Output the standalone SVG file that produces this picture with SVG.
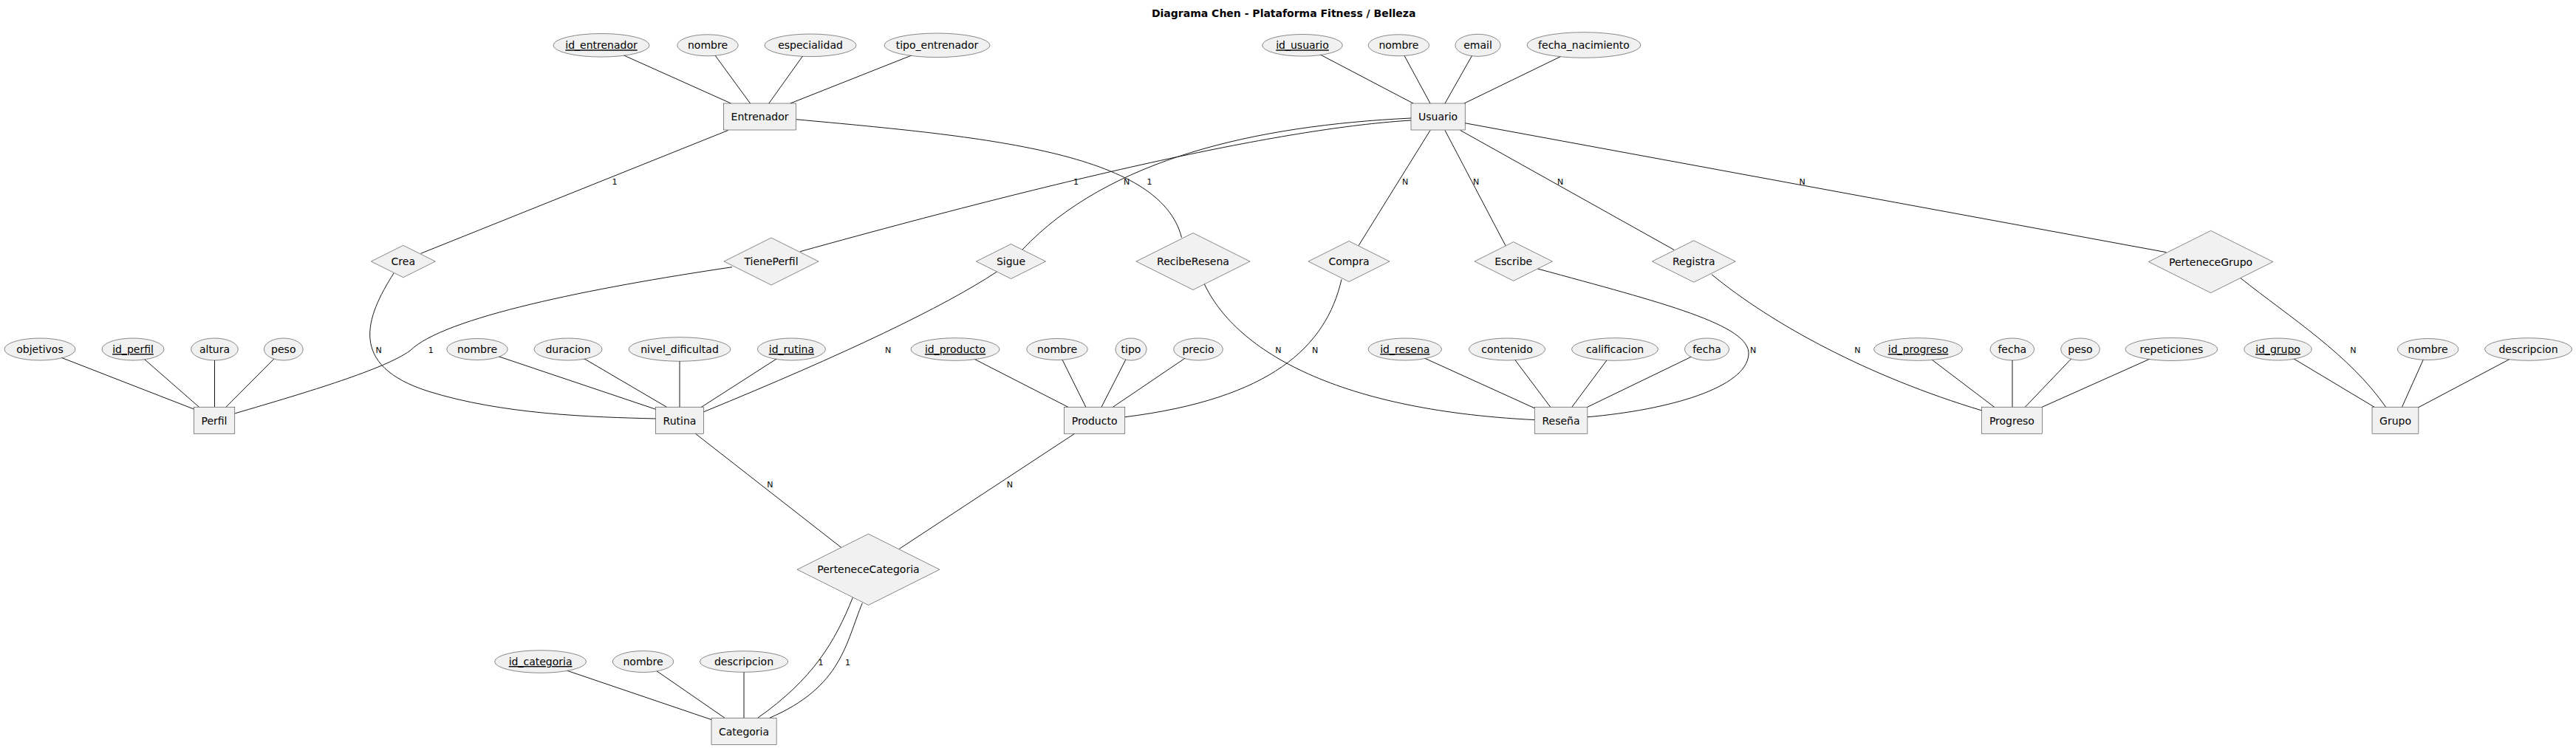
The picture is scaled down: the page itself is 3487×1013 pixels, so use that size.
<svg xmlns="http://www.w3.org/2000/svg" width="3487" height="1013" viewBox="0 0 3487 1013">
<style>
text{font-family:"DejaVu Sans",Verdana,sans-serif;fill:#000}
.t{font-size:14px;text-anchor:middle}
.k{text-decoration:underline}
.c{font-size:11px;text-anchor:middle}
.title{font-size:14px;font-weight:bold;text-anchor:middle}
.n rect,.n ellipse,.n polygon{fill:#F1F1F1;stroke:#181818;stroke-width:0.5}
#connectors path,#connectors line{fill:none;stroke:#181818;stroke-width:1}
</style>
<rect width="3487" height="1013" fill="#fff"/>
<text class="title" x="1737.7" y="23.3">Diagrama Chen - Plataforma Fitness / Belleza</text>
<g id="connectors">
<!-- attribute lines -->
<line x1="814" y1="61.3" x2="989.5" y2="140"/>
<line x1="958" y1="61.3" x2="1015.5" y2="140"/>
<line x1="1097" y1="61.3" x2="1040.8" y2="140"/>
<line x1="1268.5" y1="61.3" x2="1069.8" y2="140"/>
<line x1="1763" y1="61.3" x2="1913" y2="140"/>
<line x1="1893.4" y1="61.3" x2="1936" y2="140"/>
<line x1="2000.5" y1="61.3" x2="1956" y2="140"/>
<line x1="2144" y1="61.3" x2="1982" y2="140"/>
<line x1="54" y1="473" x2="262.3" y2="554"/>
<line x1="180" y1="473" x2="269.4" y2="551.2"/>
<line x1="290.5" y1="473" x2="290.5" y2="551.2"/>
<line x1="383.8" y1="473" x2="306" y2="551.2"/>
<line x1="646" y1="473" x2="887.7" y2="554.3"/>
<line x1="769" y1="473" x2="903" y2="551.6"/>
<line x1="920" y1="473" x2="920" y2="551.6"/>
<line x1="1071.4" y1="473" x2="949" y2="551.6"/>
<line x1="1293" y1="473" x2="1446.4" y2="551.6"/>
<line x1="1431" y1="473" x2="1470" y2="551.6"/>
<line x1="1531" y1="473" x2="1490.8" y2="551.6"/>
<line x1="1622" y1="473" x2="1506" y2="551.6"/>
<line x1="1901.8" y1="473" x2="2077.8" y2="553"/>
<line x1="2040" y1="473" x2="2099" y2="551.6"/>
<line x1="2186" y1="473" x2="2127.6" y2="551.6"/>
<line x1="2310.5" y1="473" x2="2148.5" y2="551.4"/>
<line x1="2596.5" y1="473" x2="2700" y2="551.6"/>
<line x1="2724" y1="473" x2="2724" y2="551.6"/>
<line x1="2816" y1="473" x2="2741" y2="551.6"/>
<line x1="2939.4" y1="473" x2="2764" y2="551.4"/>
<line x1="3083.5" y1="473" x2="3214.5" y2="551.6"/>
<line x1="3286.6" y1="473" x2="3251.3" y2="551.6"/>
<line x1="3422.5" y1="473" x2="3274" y2="551.6"/>
<line x1="731.6" y1="896" x2="964.3" y2="975"/>
<line x1="870.5" y1="896" x2="981" y2="972.3"/>
<line x1="1007" y1="896" x2="1007" y2="972.3"/>
<!-- relationship lines -->
<line x1="985.6" y1="176.5" x2="569.5" y2="343.3"/>
<path d="M533,370 C495,430 470,495 580,530 C679,561 800,565 888,567"/>
<path d="M1077.5,161.7 C1330,185 1570,205 1599.5,321.7"/>
<path d="M1910,163 C1760,172 1500,225 1083,340.7"/>
<path d="M1910,160 C1700,170 1500,215 1383.7,338.3"/>
<line x1="1936" y1="176.5" x2="1839" y2="332.7"/>
<line x1="1956" y1="176.5" x2="2038" y2="332.7"/>
<line x1="1976.8" y1="176.5" x2="2266" y2="338.3"/>
<line x1="1983" y1="166.7" x2="2932.4" y2="341.7"/>
<path d="M991,361.7 C800,390 600,430 555,475 C520,500 420,530 317.6,560"/>
<path d="M1349,368.3 Q1240,440 952,558"/>
<path d="M1630,384 C1670,470 1800,555 2077.5,568.6"/>
<path d="M1816,378.3 C1795,470 1720,540 1522.5,564.8"/>
<path d="M2081.6,364 C2250,410 2370,440 2367,480 C2364,525 2260,555 2148.5,564.8"/>
<path d="M2317,371.7 C2400,440 2530,510 2682.8,556"/>
<path d="M3033,376.7 C3100,430 3180,480 3229.8,551.6"/>
<line x1="941.3" y1="587.2" x2="1139" y2="741.7"/>
<line x1="1454.8" y1="587.2" x2="1217.3" y2="743.3"/>
<path d="M1154.3,809.3 C1130,870 1100,920 1025.7,972.3"/>
<path d="M1167.3,816.7 C1145,870 1140,930 1041.7,972.3"/>
</g>
<g id="labels">
<text class="c" x="832" y="249.5">1</text>
<text class="c" x="1456.4" y="249.5">1</text>
<text class="c" x="1525.2" y="249.5">N</text>
<text class="c" x="1556" y="249.5">1</text>
<text class="c" x="1902" y="249.5">N</text>
<text class="c" x="1998" y="249.5">N</text>
<text class="c" x="2112" y="249.5">N</text>
<text class="c" x="2439.5" y="249.5">N</text>
<text class="c" x="512.7" y="478">N</text>
<text class="c" x="583.2" y="478">1</text>
<text class="c" x="1202" y="478">N</text>
<text class="c" x="1730.4" y="478">N</text>
<text class="c" x="1780" y="478">N</text>
<text class="c" x="2373" y="478">N</text>
<text class="c" x="2514.4" y="478">N</text>
<text class="c" x="3185.4" y="478">N</text>
<text class="c" x="1042.3" y="660.4">N</text>
<text class="c" x="1366.8" y="660.4">N</text>
<text class="c" x="1111" y="900.7">1</text>
<text class="c" x="1147.5" y="900.7">1</text>
</g>
<!-- entities -->
<g id="Entrenador" class="n"><rect x="979.3" y="140" width="98.4" height="36"/><text class="t" x="1028.5" y="163.3">Entrenador</text></g>
<g id="Usuario" class="n"><rect x="1910" y="140" width="73.2" height="36"/><text class="t" x="1946.6" y="163.3">Usuario</text></g>
<g id="Perfil" class="n"><rect x="262.3" y="551.2" width="55.5" height="36"/><text class="t" x="290" y="574.5">Perfil</text></g>
<g id="Rutina" class="n"><rect x="887.3" y="551.2" width="65.4" height="36"/><text class="t" x="920" y="574.5">Rutina</text></g>
<g id="Producto" class="n"><rect x="1440.5" y="551.2" width="82.3" height="36"/><text class="t" x="1481.6" y="574.5">Producto</text></g>
<g id="Resena" class="n"><rect x="2077.2" y="551.2" width="71.7" height="36"/><text class="t" x="2113" y="574.5">Reseña</text></g>
<g id="Progreso" class="n"><rect x="2682.5" y="551.2" width="81.9" height="36"/><text class="t" x="2723.4" y="574.5">Progreso</text></g>
<g id="Grupo" class="n"><rect x="3211" y="551.2" width="62.9" height="36"/><text class="t" x="3242.5" y="574.5">Grupo</text></g>
<g id="Categoria" class="n"><rect x="963" y="972.3" width="88.1" height="36"/><text class="t" x="1007" y="995.6">Categoria</text></g>
<!-- relationships -->
<g id="Crea" class="n"><polygon points="502.3,354 545.8,332.3 589.3,354 545.8,375.7"/><text class="t" x="545.8" y="359">Crea</text></g>
<g id="TienePerfil" class="n"><polygon points="980,354 1044,322 1108,354 1044,386"/><text class="t" x="1044" y="359">TienePerfil</text></g>
<g id="Sigue" class="n"><polygon points="1321.5,354 1368.5,330.5 1415.5,354 1368.5,377.5"/><text class="t" x="1368.5" y="359">Sigue</text></g>
<g id="RecibeResena" class="n"><polygon points="1538,354 1615,315.5 1692,354 1615,392.5"/><text class="t" x="1615" y="359">RecibeResena</text></g>
<g id="Compra" class="n"><polygon points="1771,354 1826,326.5 1881,354 1826,381.5"/><text class="t" x="1826" y="359">Compra</text></g>
<g id="Escribe" class="n"><polygon points="1996,354 2048.7,327.6 2101.4,354 2048.7,380.4"/><text class="t" x="2048.7" y="359">Escribe</text></g>
<g id="Registra" class="n"><polygon points="2236.4,354 2292.8,325.8 2349.2,354 2292.8,382.2"/><text class="t" x="2292.8" y="359">Registra</text></g>
<g id="PerteneceGrupo" class="n"><polygon points="2908.4,354.5 2992.6,312.4 3076.8,354.5 2992.6,396.6"/><text class="t" x="2992.6" y="359.5">PerteneceGrupo</text></g>
<g id="PerteneceCategoria" class="n"><polygon points="1079.1,771.3 1175.5,723.1 1271.9,771.3 1175.5,819.5"/><text class="t" x="1175.5" y="776.3">PerteneceCategoria</text></g>
<!-- attributes -->
<g id="attr_id_entrenador" class="n"><ellipse cx="814" cy="61.3" rx="65" ry="15.8"/><text class="t k" x="814" y="66.3">id_entrenador</text></g>
<g id="attr_entrenador_nombre" class="n"><ellipse cx="958" cy="61.3" rx="41.2" ry="14.5"/><text class="t" x="958" y="66.3">nombre</text></g>
<g id="attr_especialidad" class="n"><ellipse cx="1097" cy="61.3" rx="62" ry="15.3"/><text class="t" x="1097" y="66.3">especialidad</text></g>
<g id="attr_tipo_entrenador" class="n"><ellipse cx="1268.5" cy="61.3" rx="71.5" ry="16.3"/><text class="t" x="1268.5" y="66.3">tipo_entrenador</text></g>
<g id="attr_id_usuario" class="n"><ellipse cx="1763" cy="61.3" rx="54.3" ry="14.8"/><text class="t k" x="1763" y="66.3">id_usuario</text></g>
<g id="attr_usuario_nombre" class="n"><ellipse cx="1893.4" cy="61.3" rx="41.2" ry="14.5"/><text class="t" x="1893.4" y="66.3">nombre</text></g>
<g id="attr_email" class="n"><ellipse cx="2000.5" cy="61.3" rx="30.6" ry="15"/><text class="t" x="2000.5" y="66.3">email</text></g>
<g id="attr_fecha_nacimiento" class="n"><ellipse cx="2144" cy="61" rx="77" ry="17.3"/><text class="t" x="2144" y="66">fecha_nacimiento</text></g>
<g id="attr_objetivos" class="n"><ellipse cx="54" cy="473" rx="48" ry="15"/><text class="t" x="54" y="478">objetivos</text></g>
<g id="attr_id_perfil" class="n"><ellipse cx="180" cy="473" rx="42" ry="15"/><text class="t k" x="180" y="478">id_perfil</text></g>
<g id="attr_altura" class="n"><ellipse cx="290.5" cy="473" rx="31.8" ry="15"/><text class="t" x="290.5" y="478">altura</text></g>
<g id="attr_perfil_peso" class="n"><ellipse cx="383.8" cy="473" rx="26.4" ry="15"/><text class="t" x="383.8" y="478">peso</text></g>
<g id="attr_rutina_nombre" class="n"><ellipse cx="646" cy="473" rx="41.2" ry="14.5"/><text class="t" x="646" y="478">nombre</text></g>
<g id="attr_duracion" class="n"><ellipse cx="769" cy="473" rx="46" ry="15"/><text class="t" x="769" y="478">duracion</text></g>
<g id="attr_nivel_dificultad" class="n"><ellipse cx="920" cy="473" rx="69" ry="16.3"/><text class="t" x="920" y="478">nivel_dificultad</text></g>
<g id="attr_id_rutina" class="n"><ellipse cx="1071.4" cy="473" rx="46" ry="15"/><text class="t k" x="1071.4" y="478">id_rutina</text></g>
<g id="attr_id_producto" class="n"><ellipse cx="1293" cy="473" rx="60" ry="15.3"/><text class="t k" x="1293" y="478">id_producto</text></g>
<g id="attr_producto_nombre" class="n"><ellipse cx="1431" cy="473" rx="41.2" ry="14.5"/><text class="t" x="1431" y="478">nombre</text></g>
<g id="attr_tipo" class="n"><ellipse cx="1531" cy="473" rx="21" ry="15"/><text class="t" x="1531" y="478">tipo</text></g>
<g id="attr_precio" class="n"><ellipse cx="1622" cy="473" rx="33.3" ry="15"/><text class="t" x="1622" y="478">precio</text></g>
<g id="attr_id_resena" class="n"><ellipse cx="1901.8" cy="473" rx="49.7" ry="15"/><text class="t k" x="1901.8" y="478">id_resena</text></g>
<g id="attr_contenido" class="n"><ellipse cx="2040" cy="473" rx="51.6" ry="15"/><text class="t" x="2040" y="478">contenido</text></g>
<g id="attr_calificacion" class="n"><ellipse cx="2186" cy="473" rx="58.5" ry="15.3"/><text class="t" x="2186" y="478">calificacion</text></g>
<g id="attr_resena_fecha" class="n"><ellipse cx="2310.5" cy="473" rx="30" ry="15"/><text class="t" x="2310.5" y="478">fecha</text></g>
<g id="attr_id_progreso" class="n"><ellipse cx="2596.5" cy="473" rx="60" ry="15.3"/><text class="t k" x="2596.5" y="478">id_progreso</text></g>
<g id="attr_progreso_fecha" class="n"><ellipse cx="2723.8" cy="473" rx="29.8" ry="15"/><text class="t" x="2723.8" y="478">fecha</text></g>
<g id="attr_progreso_peso" class="n"><ellipse cx="2816" cy="473" rx="26.3" ry="15"/><text class="t" x="2816" y="478">peso</text></g>
<g id="attr_repeticiones" class="n"><ellipse cx="2939.4" cy="473" rx="62.4" ry="15.5"/><text class="t" x="2939.4" y="478">repeticiones</text></g>
<g id="attr_id_grupo" class="n"><ellipse cx="3083.5" cy="473" rx="45.8" ry="15"/><text class="t k" x="3083.5" y="478">id_grupo</text></g>
<g id="attr_grupo_nombre" class="n"><ellipse cx="3286.6" cy="473" rx="41.2" ry="14.5"/><text class="t" x="3286.6" y="478">nombre</text></g>
<g id="attr_grupo_descripcion" class="n"><ellipse cx="3422.5" cy="473" rx="59" ry="15.3"/><text class="t" x="3422.5" y="478">descripcion</text></g>
<g id="attr_id_categoria" class="n"><ellipse cx="731.6" cy="896" rx="62" ry="15.3"/><text class="t k" x="731.6" y="901">id_categoria</text></g>
<g id="attr_categoria_nombre" class="n"><ellipse cx="870.5" cy="896" rx="41.2" ry="14.5"/><text class="t" x="870.5" y="901">nombre</text></g>
<g id="attr_categoria_descripcion" class="n"><ellipse cx="1007" cy="896" rx="59.7" ry="14.3"/><text class="t" x="1007" y="901">descripcion</text></g>
</svg>
